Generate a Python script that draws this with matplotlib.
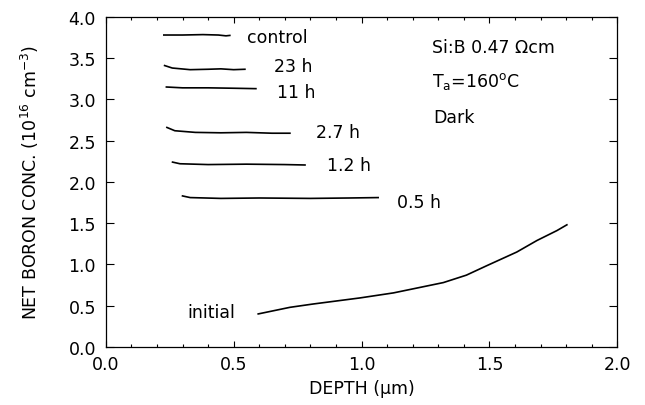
import numpy as np
import matplotlib
matplotlib.use("Agg")
import matplotlib.pyplot as plt
from matplotlib.ticker import MultipleLocator, FormatStrFormatter

plt.rcParams['font.family'] = ['DejaVu Sans']
plt.rcParams['mathtext.fontset'] = 'dejavusans'

# depth (um) and net boron concentration (1e16 cm^-3)
control_x = [0.227, 0.30, 0.38, 0.44, 0.47, 0.485]
control_y = [3.78, 3.78, 3.785, 3.78, 3.77, 3.775]

h23_x = [0.23, 0.26, 0.33, 0.40, 0.45, 0.50, 0.544]
h23_y = [3.41, 3.38, 3.36, 3.365, 3.37, 3.36, 3.365]

h11_x = [0.237, 0.30, 0.40, 0.50, 0.587]
h11_y = [3.15, 3.14, 3.14, 3.135, 3.13]

h2_7_x = [0.239, 0.27, 0.35, 0.45, 0.55, 0.65, 0.72]
h2_7_y = [2.66, 2.62, 2.60, 2.595, 2.60, 2.59, 2.59]

h1_2_x = [0.261, 0.29, 0.40, 0.55, 0.70, 0.779]
h1_2_y = [2.24, 2.22, 2.21, 2.215, 2.21, 2.205]

h0_5_x = [0.30, 0.33, 0.45, 0.60, 0.80, 0.95, 1.065]
h0_5_y = [1.83, 1.81, 1.80, 1.805, 1.80, 1.805, 1.81]

init_x = [0.596, 0.72, 0.81, 0.994, 1.125, 1.32, 1.41, 1.49, 1.607, 1.686, 1.764, 1.803]
init_y = [0.40, 0.48, 0.52, 0.594, 0.655, 0.78, 0.87, 0.985, 1.15, 1.29, 1.41, 1.48]

series = [
    (control_x, control_y, "control", 0.552, 3.76),
    (h23_x, h23_y, "23 h", 0.657, 3.40),
    (h11_x, h11_y, "11 h", 0.668, 3.09),
    (h2_7_x, h2_7_y, "2.7 h", 0.822, 2.61),
    (h1_2_x, h1_2_y, "1.2 h", 0.864, 2.20),
    (h0_5_x, h0_5_y, "0.5 h", 1.14, 1.76),
    (init_x, init_y, "initial", 0.32, 0.42),
]

fs = 12.5

fig = plt.figure(figsize=(6.45, 4.06), dpi=100)
ax = fig.add_axes([0.164, 0.143, 0.793, 0.813])

for xs, ys, lab, tx, ty in series:
    ax.plot(xs, ys, color='black', lw=1.2)
    ax.text(tx, ty, lab, fontsize=fs, va='center', ha='left')

ax.text(1.275, 3.64, "Si:B 0.47 Ωcm", fontsize=fs, va='center')
ax.text(1.275, 3.23, "T$_\\mathregular{a}$=160$^\\mathregular{o}$C", fontsize=fs, va='center')
ax.text(1.28, 2.79, "Dark", fontsize=fs, va='center')

ax.set_xlim(0, 2.0)
ax.set_ylim(0, 4.0)
ax.xaxis.set_major_locator(MultipleLocator(0.5))
ax.xaxis.set_minor_locator(MultipleLocator(0.1))
ax.yaxis.set_major_locator(MultipleLocator(0.5))
ax.xaxis.set_major_formatter(FormatStrFormatter('%.1f'))
ax.yaxis.set_major_formatter(FormatStrFormatter('%.1f'))
ax.tick_params(which='both', direction='in', top=True, right=True, labelsize=fs, width=0.8)
ax.tick_params(which='major', length=4.5, pad=6)
ax.tick_params(which='minor', length=2.3)
ax.tick_params(axis='y', which='major', length=5.8, pad=7)
for s in ax.spines.values():
    s.set_linewidth(0.9)

ax.set_xlabel("DEPTH (μm)", fontsize=fs, labelpad=4)
ax.set_ylabel("NET BORON CONC. (10$^{\\mathregular{16}}$ cm$^{\\mathregular{-3}}$)", fontsize=fs, labelpad=20)

fig.savefig("out.png", dpi=100)
